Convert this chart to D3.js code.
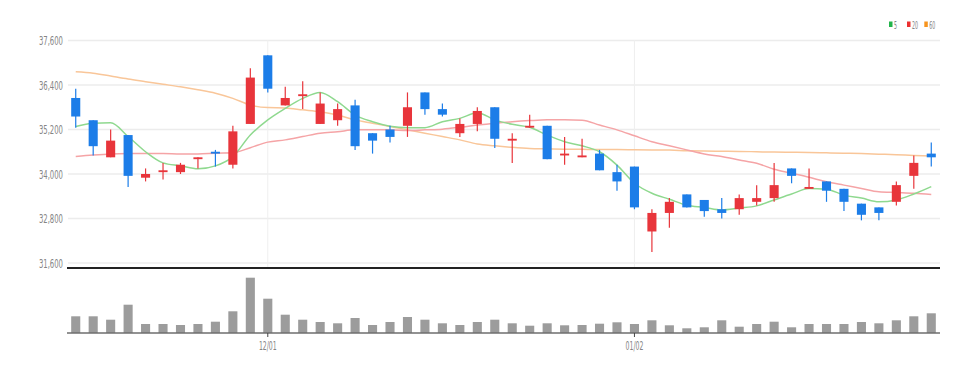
<!DOCTYPE html>
<html>
<head>
<meta charset="utf-8">
<script src="https://cdn.jsdelivr.net/npm/d3@7"></script>
<style>
  body { margin: 0; background: #fff; }
  text { font-family: "Liberation Sans Narrow", "DejaVu Sans Condensed", "Liberation Sans", sans-serif; }
</style>
</head>
<body>
<svg id="chart" width="980" height="374"></svg>
<script>
// trading days shown
var dates = ["2022-11-16","2022-11-17","2022-11-18","2022-11-21","2022-11-22","2022-11-23","2022-11-24","2022-11-25","2022-11-28","2022-11-29","2022-11-30",
  "2022-12-01","2022-12-02","2022-12-05","2022-12-06","2022-12-07","2022-12-08","2022-12-09","2022-12-12","2022-12-13","2022-12-14","2022-12-15","2022-12-16",
  "2022-12-19","2022-12-20","2022-12-21","2022-12-22","2022-12-23","2022-12-26","2022-12-27","2022-12-28","2022-12-29",
  "2023-01-02","2023-01-03","2023-01-04","2023-01-05","2023-01-06","2023-01-09","2023-01-10","2023-01-11","2023-01-12","2023-01-13",
  "2023-01-16","2023-01-17","2023-01-18","2023-01-19","2023-01-20","2023-01-25","2023-01-26","2023-01-27"];

var open  = [36050,35450,34450,35050,33900,34050,34050,34400,34600,34250,35350,37200,35850,36100,35350,35450,35850,35100,35200,35300,36200,35750,35100,35350,35800,
             34900,35250,35300,34500,34450,34550,34050,34200,32450,32950,33450,33300,33050,33050,33250,33350,34150,33600,33800,33600,33200,33100,33250,33950,34550];
var high  = [36300,35450,35200,35050,34150,34300,34300,34450,34650,35300,36850,37200,36350,36500,36200,35900,36000,35100,35300,36200,36200,35900,35500,35800,35800,
             35100,35600,35300,35000,34950,34650,34250,34200,33050,33350,33450,33300,33350,33450,33700,34300,34150,34150,33800,33600,33200,33100,33800,34500,34850];
var low   = [35250,34500,34450,33650,33800,33850,34000,34150,34200,34150,35350,36200,35850,35750,35350,35300,34650,34550,34850,35000,35600,35550,35000,35150,34700,
             34300,35250,34400,34250,34450,34100,33550,33050,31900,32550,33100,32850,32800,32900,33150,33250,33750,33600,33250,33000,32750,32750,33150,33600,34200];
var close = [35550,34750,34900,33950,34000,34100,34250,34450,34550,35150,36600,36300,36050,36150,35900,35750,34750,34900,35000,35800,35750,35600,35350,35700,34950,
             34950,35300,34400,34550,34500,34100,33800,33100,32950,33250,33100,33000,32950,33350,33350,33700,33950,33650,33550,33250,32900,32950,33700,34300,34450];

var ma5  = [35280,35370,35380,35010,34600,34300,34220,34140,34220,34470,35050,35460,35770,36040,36200,35950,35590,35410,35290,35250,35250,35410,35500,35650,35460,
            35340,35260,35050,34870,34760,34600,34240,33750,33480,33320,33160,33100,33030,33080,33140,33300,33460,33610,33590,33430,33350,33250,33300,33460,33660];
var ma20 = [34470,34510,34540,34550,34550,34550,34540,34540,34560,34570,34710,34860,34920,35010,35100,35140,35190,35190,35190,35170,35190,35210,35260,35320,35370,
            35410,35440,35460,35460,35450,35320,35190,35030,34870,34760,34650,34540,34470,34380,34290,34130,34020,33910,33790,33700,33610,33520,33500,33480,33450];
var ma60 = [36760,36720,36640,36560,36490,36420,36350,36270,36180,36040,35860,35790,35780,35730,35680,35590,35460,35370,35280,35190,35100,35010,34920,34810,34760,
            34720,34690,34680,34670,34665,34660,34660,34655,34650,34645,34630,34620,34615,34610,34600,34590,34585,34580,34570,34560,34550,34535,34520,34500,34485];

var volume = [167,167,133,283,90,90,80,90,113,217,553,343,183,133,110,97,150,80,110,160,133,97,80,110,133,
              97,73,97,77,80,93,107,90,127,77,47,57,127,63,90,113,57,90,90,90,110,97,127,167,197];

var priceTicks = [31600,32800,34000,35200,36400,37600];
var dateTicks = ["2022-12-01","2023-01-02"];
var maNames = ["5","20","60"];

var svg = d3.select("#chart");
var left = 67, right = 940;

var x = d3.scaleBand().domain(dates).range([left, right]).paddingInner(0.48).paddingOuter(0.24);
var cx = function(d) { return x(d) + x.bandwidth() / 2; };

var y = d3.scaleLinear().domain([31600, 37600]).range([263, 40.5]);
var yVol = d3.scaleLinear().domain([0, 560]).range([333, 277]);

var rows = dates.map(function(d, i) {
  return {date: d, o: open[i], h: high[i], l: low[i], c: close[i], v: volume[i], m5: ma5[i], m20: ma20[i], m60: ma60[i]};
});

// squeeze labels to the narrow look of the original
function narrow(sel, perChar) {
  sel.each(function() {
    var t = d3.select(this), s = t.text();
    var n = s.replace(/[,/]/g, "").length;
    t.attr("textLength", n * perChar + (s.length - n) * 2.6)
     .attr("lengthAdjust", "spacingAndGlyphs");
  });
}

// gridlines
svg.append("g").selectAll("line").data(priceTicks).enter().append("line")
  .attr("x1", left + 1).attr("x2", right)
  .attr("y1", function(d) { return y(d); }).attr("y2", function(d) { return y(d); })
  .attr("stroke", "#ececec").attr("stroke-width", 1.5);

svg.append("g").selectAll("line").data(dateTicks).enter().append("line")
  .attr("x1", cx).attr("x2", cx)
  .attr("y1", 40).attr("y2", 267)
  .attr("stroke", "#efefef").attr("stroke-width", 1);

// price axis labels
var yAxis = d3.axisLeft(y).tickValues(priceTicks).tickFormat(d3.format(",")).tickSize(0).tickPadding(4);
svg.append("g").attr("transform", "translate(" + left + ",0)").call(yAxis)
  .call(function(g) { g.select(".domain").remove(); })
  .selectAll("text").attr("fill", "#858585").style("font-size", "12.5px").call(narrow, 4.3);

// moving averages
var line = function(key) {
  return d3.line().curve(d3.curveMonotoneX)
    .x(function(d) { return cx(d.date); })
    .y(function(d) { return y(d[key]); });
};
[["m60", "#f9c699"], ["m20", "#f5a4a6"], ["m5", "#8fd98f"]].forEach(function(s) {
  svg.append("path").datum(rows)
    .attr("d", line(s[0]))
    .attr("fill", "none").attr("stroke", s[1]).attr("stroke-width", 1.5);
});

// candles
var up = "#e8353b", down = "#1c7de8";
var candle = svg.append("g").selectAll("g").data(rows).enter().append("g");
candle.append("line")
  .attr("x1", function(d) { return cx(d.date); }).attr("x2", function(d) { return cx(d.date); })
  .attr("y1", function(d) { return y(d.h); }).attr("y2", function(d) { return y(d.l); })
  .attr("stroke", function(d) { return d.c >= d.o ? up : down; }).attr("stroke-width", 1.2);
candle.append("rect")
  .attr("x", function(d) { return x(d.date); })
  .attr("width", x.bandwidth())
  .attr("y", function(d) { return y(Math.max(d.o, d.c)); })
  .attr("height", function(d) { return Math.max(1.5, Math.abs(y(d.o) - y(d.c))); })
  .attr("fill", function(d) { return d.c >= d.o ? up : down; });

// pane separator
svg.append("line").attr("x1", left).attr("x2", right).attr("y1", 268).attr("y2", 268)
  .attr("stroke", "#222").attr("stroke-width", 2);

// volume
svg.append("g").selectAll("rect").data(rows).enter().append("rect")
  .attr("x", function(d) { return x(d.date); })
  .attr("width", x.bandwidth())
  .attr("y", function(d) { return yVol(d.v); })
  .attr("height", function(d) { return yVol(0) - yVol(d.v); })
  .attr("fill", "#9c9c9c");

svg.append("line").attr("x1", left).attr("x2", right).attr("y1", yVol(0)).attr("y2", yVol(0))
  .attr("stroke", "#6e6e6e").attr("stroke-width", 1.5);

var xAxis = d3.axisBottom(x).tickValues(dateTicks)
  .tickFormat(function(d) { return d.slice(5, 7) + "/" + d.slice(8, 10); })
  .tickSize(4).tickPadding(4);
svg.append("g").attr("transform", "translate(0," + yVol(0) + ")").call(xAxis)
  .call(function(g) {
    g.select(".domain").remove();
    g.selectAll("line").attr("stroke", "#444");
    g.selectAll("text").attr("fill", "#858585").style("font-size", "12.5px").call(narrow, 3.8);
  });

// legend
var legendColors = ["#22b44a", "#ec3030", "#f7941d"];
var lg = svg.append("g").attr("transform", "translate(889,21)");
var lx = 0;
maNames.forEach(function(n, i) {
  lg.append("rect").attr("x", lx).attr("y", 0.5).attr("width", 3.5).attr("height", 5.5).attr("fill", legendColors[i]);
  lg.append("text").attr("x", lx + 5).attr("y", 7.5).text(n)
    .attr("fill", "#858585").style("font-size", "11px").call(narrow, 3);
  lx += n.length === 1 ? 18 : 17.3;
});
</script>
</body>
</html>
